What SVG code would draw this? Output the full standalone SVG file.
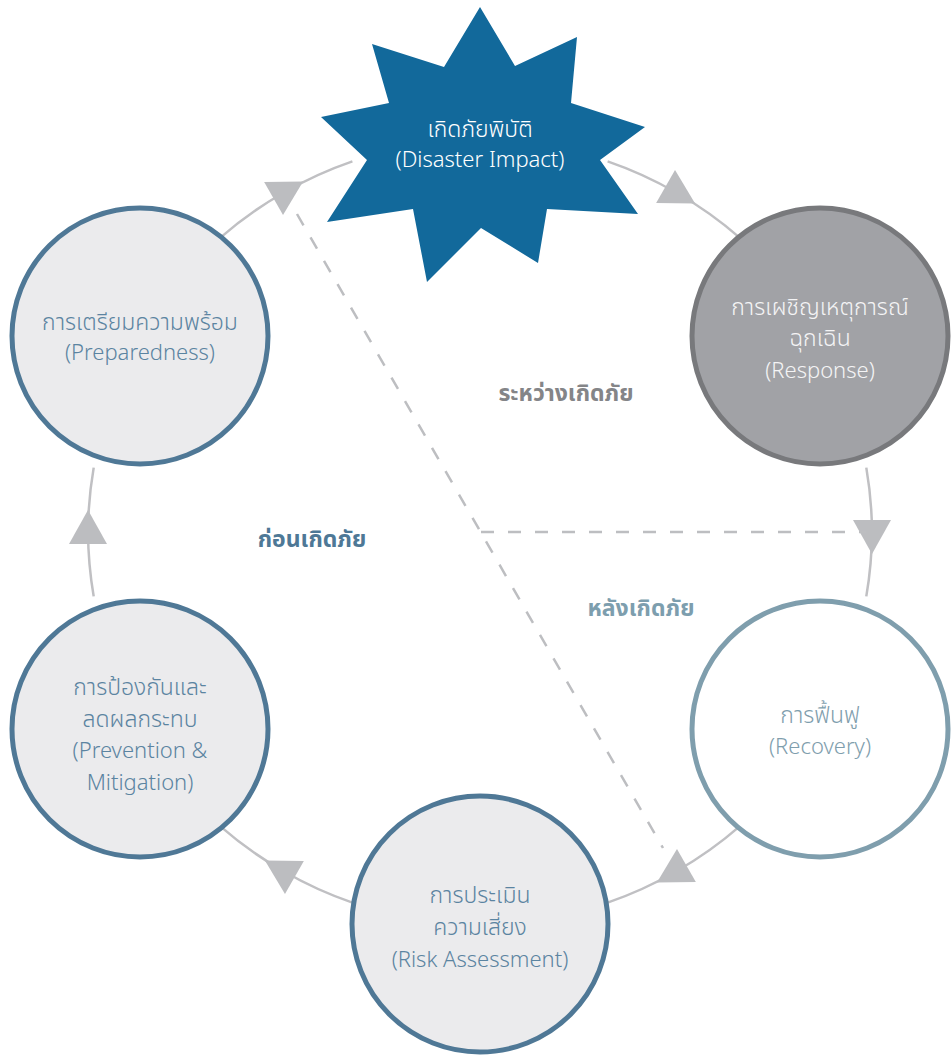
<svg xmlns="http://www.w3.org/2000/svg" width="952" height="1055" viewBox="0 0 952 1055">
<style>
  .ring { fill: none; stroke: #c0c0c3; stroke-width: 2.5; marker-mid: url(#arr); }
  .dash { fill: none; stroke: #bdbec1; stroke-width: 2.5; stroke-dasharray: 13 14; }
  .t { font-family: "Noto Sans", "Noto Sans Thai", "Open Sans", sans-serif; font-weight: 300; font-size: 22px; text-anchor: middle; }
  .th { font-size: 23px; }
  .blue circle { fill: #ebebed; stroke: #4f7896; stroke-width: 5; }
  .blue text { fill: #5b84a1; }
  .lab { font-family: "Noto Sans", "Noto Sans Thai", "Open Sans", sans-serif; font-weight: 700; font-size: 23px; text-anchor: middle; }
</style>
<defs>
  <marker id="arr" markerUnits="userSpaceOnUse" markerWidth="36" markerHeight="38" viewBox="0 0 34 38" refX="12" refY="19" orient="auto">
    <path d="M0,0 L34,19 L0,38 Z" fill="#bcbdc0"/>
  </marker>
</defs>
<rect width="952" height="1055" fill="#ffffff"/>
<g id="connectors">
  <path class="ring" d="M 607.6 161.4 A 392 392 0 0 1 676 192.5 A 392 392 0 0 1 740.2 238.1"/>
  <path class="ring" d="M 866.3 467.6 A 392 392 0 0 1 872 532 A 392 392 0 0 1 866.3 596.4"/>
  <path class="ring" d="M 740.2 825.9 A 392 392 0 0 1 676 871.5 A 392 392 0 0 1 607.6 902.6"/>
  <path class="ring" d="M 352.4 902.6 A 392 392 0 0 1 284 871.5 A 392 392 0 0 1 219.8 825.9"/>
  <path class="ring" d="M 93.7 596.4 A 392 392 0 0 1 88 532 A 392 392 0 0 1 93.7 467.6"/>
  <path class="ring" d="M 219.8 238.1 A 392 392 0 0 1 284 192.5 A 392 392 0 0 1 352.4 161.4"/>
  <line class="dash" x1="297" y1="214" x2="663" y2="848"/>
  <line class="dash" x1="481" y1="532" x2="866" y2="532"/>
</g>
<g id="disaster">
  <polygon fill="#12699b" points="480,7 515,66 577,37 571,103 645,127 600,160 638,214 547,209 538,263 481,228 427,282 413,209 327,222 367,160 321,117 389,103 372,44 444,67"/>
  <text class="t th" x="480" y="137" fill="#ffffff">เกิดภัยพิบัติ</text>
  <text class="t" x="480" y="167" fill="#ffffff">(Disaster Impact)</text>
</g>
<g id="response">
  <circle cx="820" cy="336" r="128" fill="#a1a2a6" stroke="#78797c" stroke-width="5"/>
  <text class="t th" x="820" y="315" fill="#f4f4f5">การเผชิญเหตุการณ์</text>
  <text class="t th" x="820" y="346" fill="#f4f4f5">ฉุกเฉิน</text>
  <text class="t" x="820" y="378" fill="#f4f4f5">(Response)</text>
</g>
<g id="recovery">
  <circle cx="820" cy="729" r="128" fill="#ffffff" stroke="#7f9ead" stroke-width="5"/>
  <text class="t th" x="820" y="723" fill="#7f9ead">การฟื้นฟู</text>
  <text class="t" x="820" y="754" fill="#7f9ead">(Recovery)</text>
</g>
<g id="risk" class="blue">
  <circle cx="480" cy="924" r="128"/>
  <text class="t th" x="480" y="903">การประเมิน</text>
  <text class="t th" x="480" y="935">ความเสี่ยง</text>
  <text class="t" x="480" y="967">(Risk Assessment)</text>
</g>
<g id="prevention" class="blue">
  <circle cx="140" cy="729" r="128"/>
  <text class="t th" x="140" y="695">การป้องกันและ</text>
  <text class="t th" x="140" y="727">ลดผลกระทบ</text>
  <text class="t" x="140" y="758">(Prevention &amp;</text>
  <text class="t" x="140" y="790">Mitigation)</text>
</g>
<g id="preparedness" class="blue">
  <circle cx="140" cy="336" r="128"/>
  <text class="t th" x="140" y="330">การเตรียมความพร้อม</text>
  <text class="t" x="140" y="360">(Preparedness)</text>
</g>
<g id="phase-labels">
  <text class="lab" x="566" y="401" fill="#848588">ระหว่างเกิดภัย</text>
  <text class="lab" x="312" y="547" fill="#4e7896">ก่อนเกิดภัย</text>
  <text class="lab" x="641" y="616" fill="#7d9eae">หลังเกิดภัย</text>
</g>
</svg>
